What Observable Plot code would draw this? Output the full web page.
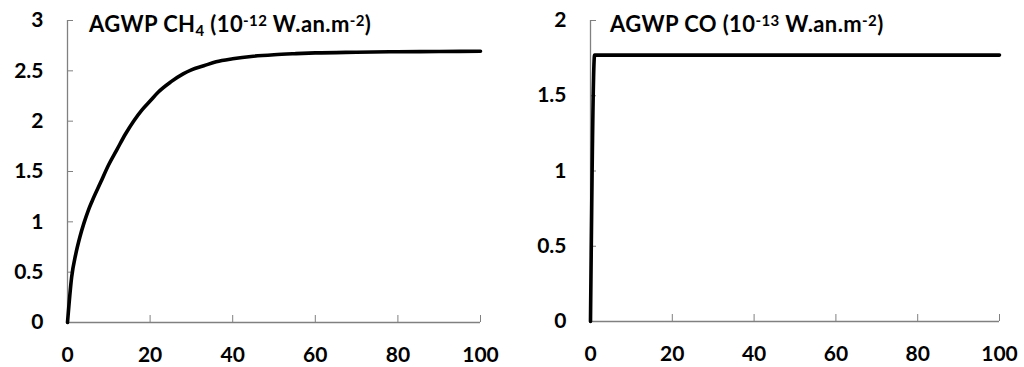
<!DOCTYPE html>
<html><head><meta charset="utf-8">
<script src="https://cdn.jsdelivr.net/npm/d3@7"></script>
<script src="https://cdn.jsdelivr.net/npm/@observablehq/plot@0.6"></script>
<style>
body{margin:0;background:#fff;}
#wrap{display:flex;width:1024px;height:367px;}
.panel{position:relative;width:512px;height:367px;}
.title{position:absolute;top:12px;font-family:Lato,sans-serif;font-weight:bold;font-size:22px;line-height:24px;letter-spacing:0.4px;white-space:nowrap;color:#000;}
.title sup{font-size:15px;line-height:0;vertical-align:0.4em;}
.title sub{font-size:15px;line-height:0;vertical-align:-0.28em;}
</style></head><body><div id="wrap"></div>
<script>
// Data
const ch4Years  = [0, 1, 2, 3, 4, 5, 6, 8, 10, 12, 14, 16, 18, 20, 22, 25, 28, 30, 33, 36, 40, 45, 50, 55, 60, 70, 80, 90, 100];
const ch4Values = [0, 0.45, 0.68, 0.85, 0.99, 1.11, 1.21, 1.39, 1.57, 1.72, 1.87, 2.00, 2.11, 2.20, 2.29, 2.39, 2.47, 2.51, 2.55, 2.59, 2.62, 2.645, 2.66, 2.67, 2.678, 2.685, 2.69, 2.692, 2.694];
const coYears   = [0, 1, 100];
const coValues  = [0, 1.77, 1.77];
const xTicks    = [0, 20, 40, 60, 80, 100];
const ch4YTicks = [0, 0.5, 1, 1.5, 2, 2.5, 3];
const coYTicks  = [0, 0.5, 1, 1.5, 2];

const axisColor = "#808080";
const fmt = d => String(d);

function panel({years, values, yMax, yTicks, marginLeft, marginRight, marginBottom, titleHTML, titleLeft}) {
  const data = years.map((t, i) => ({t, v: values[i]}));
  const chart = Plot.plot({
    width: 512, height: 367,
    marginTop: 20, marginBottom, marginLeft, marginRight,
    style: {fontFamily: "Lato, sans-serif", fontWeight: "bold", fontSize: "21px", color: "#000", background: "#fff", overflow: "visible"},
    x: {domain: [0, 100], label: null},
    y: {domain: [0, yMax], label: null},
    marks: [
      Plot.axisY(yTicks, {tickSize: 6, dx: 6, tickFormat: () => "", stroke: axisColor, label: null}),
      Plot.axisY(yTicks, {tickSize: 0, tickPadding: 24, tickFormat: fmt, label: null, fill: "#000"}),
      Plot.axisX(xTicks, {tickSize: 7, dy: -7, tickFormat: () => "", stroke: axisColor, label: null}),
      Plot.axisX(xTicks, {tickSize: 0, tickPadding: 25, tickFormat: fmt, label: null, fill: "#000"}),
      Plot.ruleX([0], {y1: 0, y2: yMax, stroke: axisColor, strokeWidth: 1.3}),
      Plot.ruleY([0], {x1: 0, x2: 100, stroke: axisColor, strokeWidth: 1.3}),
      Plot.line(data, {x: "t", y: "v", curve: "monotone-x", stroke: "#000", strokeWidth: 3.6, strokeLinejoin: "round"})
    ]
  });
  const div = document.createElement("div");
  div.className = "panel";
  div.appendChild(chart);
  const t = document.createElement("div");
  t.className = "title";
  t.style.left = titleLeft + "px";
  t.innerHTML = titleHTML;
  div.appendChild(t);
  return div;
}

const wrap = document.getElementById("wrap");
wrap.appendChild(panel({
  years: ch4Years, values: ch4Values, yMax: 3, yTicks: ch4YTicks,
  marginLeft: 67, marginRight: 32, marginBottom: 45,
  titleHTML: "AGWP CH<sub>4</sub> (10<sup>-12</sup> W.an.m<sup>-2</sup>)", titleLeft: 89
}));
wrap.appendChild(panel({
  years: coYears, values: coValues, yMax: 2, yTicks: coYTicks,
  marginLeft: 78, marginRight: 25, marginBottom: 46,
  titleHTML: "AGWP CO (10<sup>-13</sup> W.an.m<sup>-2</sup>)", titleLeft: 98
}));
</script></body></html>
